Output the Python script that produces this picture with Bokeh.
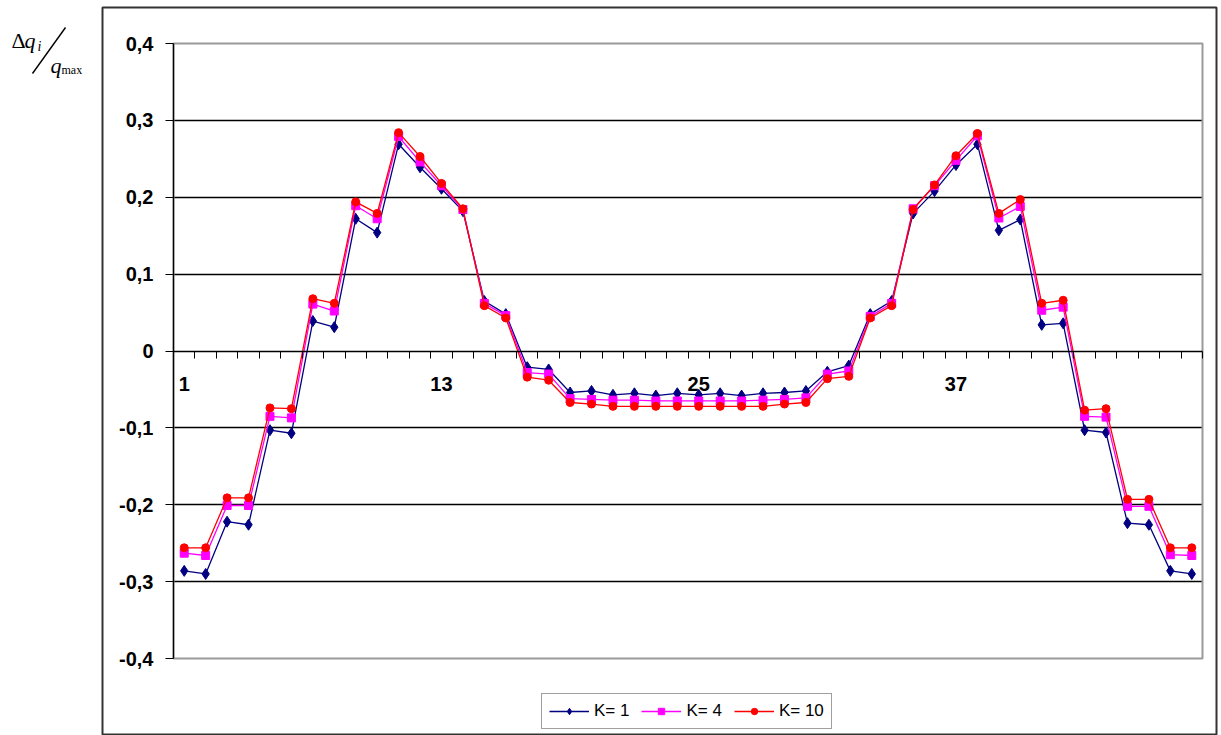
from bokeh.plotting import figure
from bokeh.models import (Range1d, FixedTicker, Legend, LegendItem, Label,
                          BoxAnnotation, PolyAnnotation, Grid)
from bokeh.embed import file_html
from bokeh.resources import INLINE

# node index along the profile
nodes = list(range(1, 49))

# relative deviation dq_i / q_max for each damping coefficient K
k1 = [-0.286, -0.290, -0.222, -0.226, -0.103, -0.107,
      0.039, 0.031, 0.172, 0.154, 0.269, 0.239,
      0.211, 0.182, 0.065, 0.048, -0.021, -0.024,
      -0.054, -0.052, -0.057, -0.055, -0.058, -0.055,
      -0.057, -0.055, -0.058, -0.055, -0.054, -0.052,
      -0.027, -0.019, 0.048, 0.065, 0.179, 0.208,
      0.242, 0.269, 0.157, 0.171, 0.034, 0.036,
      -0.103, -0.106, -0.224, -0.226, -0.286, -0.290]

k4 = [-0.263, -0.266, -0.201, -0.201, -0.085, -0.087,
      0.061, 0.052, 0.189, 0.172, 0.279, 0.246,
      0.215, 0.184, 0.062, 0.046, -0.028, -0.030,
      -0.062, -0.063, -0.064, -0.064, -0.065, -0.065,
      -0.065, -0.065, -0.065, -0.064, -0.063, -0.061,
      -0.030, -0.026, 0.045, 0.062, 0.185, 0.215,
      0.248, 0.280, 0.173, 0.188, 0.053, 0.057,
      -0.085, -0.086, -0.202, -0.202, -0.265, -0.266]

k10 = [-0.256, -0.256, -0.191, -0.191, -0.074, -0.075,
       0.068, 0.062, 0.194, 0.179, 0.284, 0.253,
       0.218, 0.185, 0.059, 0.043, -0.034, -0.038,
       -0.067, -0.069, -0.072, -0.072, -0.072, -0.072,
       -0.072, -0.072, -0.072, -0.072, -0.069, -0.067,
       -0.036, -0.033, 0.043, 0.059, 0.184, 0.216,
       0.254, 0.283, 0.179, 0.197, 0.062, 0.066,
       -0.077, -0.075, -0.193, -0.193, -0.256, -0.256]

series_names = ["K= 1", "K= 4", "K= 10"]

x_label_nodes = [1, 13, 25, 37]
y_ticks = [-0.4, -0.3, -0.2, -0.1, 0, 0.1, 0.2, 0.3, 0.4]
y_tick_labels = ["-0,4", "-0,3", "-0,2", "-0,1", "0", "0,1", "0,2", "0,3", "0,4"]
grid_levels = [-0.3, -0.2, -0.1, 0.1, 0.2, 0.3]

FONT = "Liberation Sans"
SERIF = "Liberation Serif"

# canvas layout (px); the drawing frame covers the whole canvas so that the
# chart border, legend and quantity label can be drawn inside it
W, H = 1221, 735
AREA_L, AREA_R, AREA_T, AREA_B = 173, 1202, 43, 658
X0, X1 = 0.5, len(nodes) + 0.5
Y0, Y1 = y_ticks[0], y_ticks[-1]
sx = (AREA_R - AREA_L) / (X1 - X0)
sy = (AREA_B - AREA_T) / (Y1 - Y0)
x_range = Range1d(X0 - AREA_L / sx, X1 + (W - AREA_R) / sx)
y_range = Range1d(Y0 - (H - AREA_B) / sy, Y1 + AREA_T / sy)

p = figure(width=W, height=H, output_backend="svg", toolbar_location=None,
           x_range=x_range, y_range=y_range,
           min_border=0, min_border_left=0, min_border_right=0,
           min_border_top=0, min_border_bottom=0)
p.background_fill_color = "white"
p.border_fill_color = "white"
p.outline_line_color = None

# plot-area border
p.add_layout(BoxAnnotation(left=X0, right=X1, bottom=Y0, top=Y1,
                           fill_color=None, line_color="#9a9a9a",
                           line_alpha=1, line_width=2, level="underlay"))

# value axis on the left edge of the plot area
yax = p.yaxis[0]
yax.fixed_location = X0
yax.bounds = (Y0, Y1)
yax.ticker = FixedTicker(ticks=y_ticks)
yax.major_label_overrides = {t: s for t, s in zip(y_ticks, y_tick_labels)}
yax.axis_line_color = "black"
yax.axis_line_width = 1.3
yax.major_tick_line_color = "black"
yax.major_tick_out = 8
yax.major_tick_in = 0
yax.minor_tick_line_color = None
yax.major_label_standoff = 12
yax.major_label_text_font = FONT
yax.major_label_text_font_style = "bold"
yax.major_label_text_font_size = "20px"
yax.major_label_text_color = "black"

# category axis crossing at zero, with ticks between categories
xax = p.xaxis[0]
xax.fixed_location = 0
xax.bounds = (X0, X1)
xax.ticker = FixedTicker(ticks=x_label_nodes,
                         minor_ticks=[n + 0.5 for n in [0] + nodes])
xax.axis_line_color = "black"
xax.axis_line_width = 1.3
xax.major_tick_line_color = None
xax.minor_tick_line_color = "black"
xax.minor_tick_out = 7
xax.minor_tick_in = 0
xax.major_label_standoff = 19
xax.major_label_text_font = FONT
xax.major_label_text_font_style = "bold"
xax.major_label_text_font_size = "20px"
xax.major_label_text_color = "black"

p.xgrid.visible = False
ygrid = p.ygrid[0]
ygrid.ticker = FixedTicker(ticks=grid_levels)
ygrid.grid_line_color = "black"
ygrid.grid_line_width = 1.3
if "cross_bounds" in Grid.properties():
    ygrid.cross_bounds = (X0, X1)
else:
    ygrid.visible = False
    p.segment(x0=[X0] * len(grid_levels), x1=[X1] * len(grid_levels),
              y0=grid_levels, y1=grid_levels, line_color="black",
              line_width=1.3)

# series
r1l = p.line(nodes, k1, line_color="#000080", line_width=1.3)
r1m = p.scatter(nodes, k1, marker="diamond", size=11, fill_color="#000080",
                line_color="#000080")
r2l = p.line(nodes, k4, line_color="#FF00FF", line_width=1.3)
r2m = p.scatter(nodes, k4, marker="square", size=8, fill_color="#FF00FF",
                line_color="#FF00FF")
r3l = p.line(nodes, k10, line_color="#FF0000", line_width=1.3)
r3m = p.scatter(nodes, k10, marker="circle", size=8, fill_color="#FF0000",
                line_color="#FF0000")

legend = Legend(items=[LegendItem(label=series_names[0], renderers=[r1l, r1m]),
                       LegendItem(label=series_names[1], renderers=[r2l, r2m]),
                       LegendItem(label=series_names[2], renderers=[r3l, r3m])],
                orientation="horizontal", location=(541, H - 729),
                glyph_width=40, glyph_height=16, label_standoff=5, spacing=12,
                padding=7, margin=0,
                border_line_color="#404040", border_line_width=1.5,
                background_fill_color="white", background_fill_alpha=1,
                label_text_font=FONT, label_text_font_size="17px",
                label_text_color="black")
p.add_layout(legend, "center")

# outer chart border
p.add_layout(BoxAnnotation(left=102, right=1216, top=H - 7, bottom=H - 734,
                           left_units="screen", right_units="screen",
                           top_units="screen", bottom_units="screen",
                           fill_color=None, line_color="#333333",
                           line_alpha=1, line_width=2))

# quantity label:  Δq_i / q_max
def lab(x, y, t, size, style="italic"):
    p.add_layout(Label(x=x, y=H - y, x_units="screen", y_units="screen",
                       text=t, text_font=SERIF, text_font_style=style,
                       text_font_size=size, text_color="black",
                       text_baseline="alphabetic"))

lab(11, 40, "Δ", "22px", "normal")
lab(24, 40, "q", "22px")
lab(37, 46, "i", "14px")
lab(50, 65, "q", "22px")
lab(61, 69, "max", "12px", "normal")

# fraction stroke between numerator and denominator
p.add_layout(PolyAnnotation(xs=[32, 65], ys=[H - 73, H - 27],
                            xs_units="screen", ys_units="screen",
                            fill_color=None, line_color="black",
                            line_alpha=1, line_width=1.4))

open("out.html", "w").write(file_html(p, INLINE))
